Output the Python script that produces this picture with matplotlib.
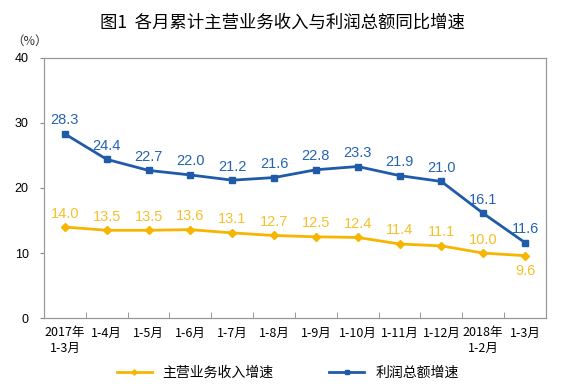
import matplotlib
matplotlib.use('Agg')
import matplotlib.pyplot as plt
import numpy as np

plt.rcParams['font.family'] = ['Liberation Sans', 'Noto Sans CJK SC', 'DejaVu Sans']

months = ['2017年\n1-3月', '1-4月', '1-5月', '1-6月', '1-7月', '1-8月', '1-9月',
          '1-10月', '1-11月', '1-12月', '2018年\n1-2月', '1-3月']
revenue = [14.0, 13.5, 13.5, 13.6, 13.1, 12.7, 12.5, 12.4, 11.4, 11.1, 10.0, 9.6]
profit = [28.3, 24.4, 22.7, 22.0, 21.2, 21.6, 22.8, 23.3, 21.9, 21.0, 16.1, 11.6]

yellow = '#F7B500'
blue = '#1F5BA8'
ylab = '#F5C02A'
blab = '#2563B0'

fig = plt.figure(figsize=(5.64, 3.88), dpi=100)
ax = fig.add_axes([0.078, 0.180, 0.890, 0.671])
x = np.arange(len(months))

ax.plot(x, revenue, color=yellow, lw=2, marker='D', ms=4.5, label='主营业务收入增速')
ax.plot(x, profit, color=blue, lw=2, marker='s', ms=4, label='利润总额增速')

for i, v in enumerate(revenue):
    if i == len(revenue) - 1:
        ax.text(i, v - 1.3, f'{v:.1f}', color=ylab, ha='center', va='top', fontsize=10.5)
    else:
        ax.text(i, v + 1.0, f'{v:.1f}', color=ylab, ha='center', va='bottom', fontsize=10.5)
for i, v in enumerate(profit):
    ax.text(i, v + 1.0, f'{v:.1f}', color=blab, ha='center', va='bottom', fontsize=10.5)

ax.set_xlim(-0.5, 11.5)
ax.set_ylim(0, 40)
ax.set_yticks([0, 10, 20, 30, 40])
ax.set_xticks(x)
ax.set_xticklabels(months, fontsize=9, family=['Noto Sans CJK SC'])
ax.set_xticks(np.arange(0.5, 11.5, 1), minor=True)
ax.tick_params(axis='x', which='major', length=0, pad=6)
ax.tick_params(axis='x', which='minor', direction='in', length=4, color='#888888')
ax.tick_params(axis='y', length=3, color='#888888', labelsize=9, pad=8)
for s in ax.spines.values():
    s.set_color('#999999')
    s.set_linewidth(0.9)

fig.text(0.020, 0.885, '（%）', fontsize=9, family=['Noto Sans CJK SC'], color='#333333')
fig.text(0.500, 0.942, '图1  各月累计主营业务收入与利润总额同比增速', ha='center', va='center',
         fontsize=12.5, family=['Noto Sans CJK SC'])

fig.legend(loc='center', bbox_to_anchor=(0.51, 0.04), ncol=2, frameon=False,
           prop={'family': 'Noto Sans CJK SC', 'size': 10}, columnspacing=4,
           handlelength=2.5, markerscale=0.6)

fig.savefig('out.png', dpi=100)
